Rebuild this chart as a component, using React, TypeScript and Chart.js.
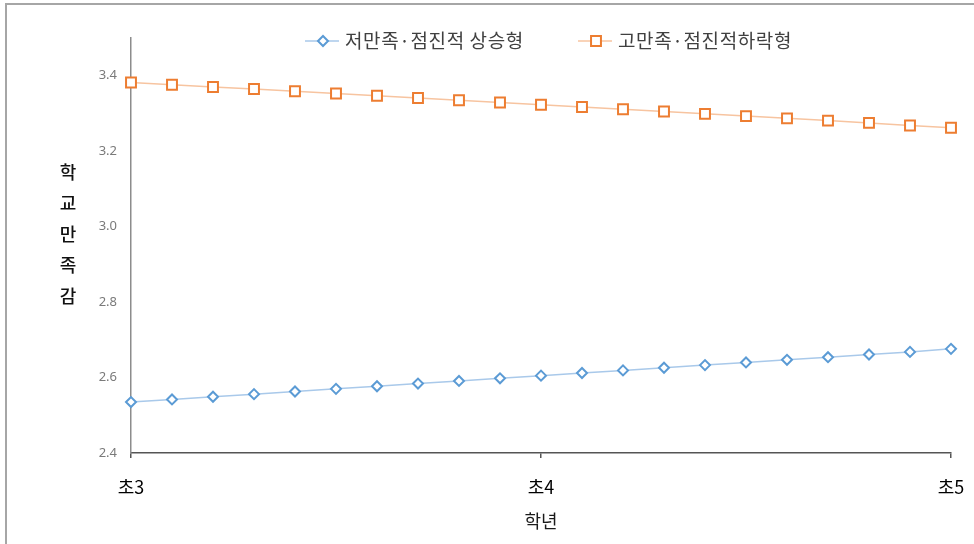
import React, { useEffect, useRef } from 'react';
import { Chart, registerables } from 'chart.js';

Chart.register(...registerables);

// Categories: 21 measurement points between 초3 and 초5, labelled only at whole grades
const categories = [
  '초3', '', '', '', '', '', '', '', '', '',
  '초4', '', '', '', '', '', '', '', '', '',
  '초5',
];

const lowRisingLabel = '저만족·점진적 상승형';
const lowRising = [
  2.535, 2.542, 2.549, 2.556, 2.563, 2.570, 2.577, 2.584, 2.591, 2.598,
  2.605, 2.612, 2.619, 2.626, 2.633, 2.640, 2.647, 2.654, 2.661, 2.668, 2.676,
];

const highFallingLabel = '고만족·점진적하락형';
const highFalling = [
  3.382, 3.376, 3.370, 3.365, 3.359, 3.353, 3.347, 3.341, 3.335, 3.329,
  3.323, 3.317, 3.311, 3.305, 3.299, 3.293, 3.287, 3.281, 3.275, 3.268, 3.262,
];

const yTicks = [2.4, 2.6, 2.8, 3.0, 3.2, 3.4];
const yMin = 2.4;
const yMax = 3.5;

const yTitleChars = ['학', '교', '만', '족', '감'];
const xTitle = '학년';

const BLUE = '#5b9bd5';
const BLUE_LINE = '#a9c9ea';
const ORANGE = '#ed7d31';
const ORANGE_LINE = '#f7c4a0';
const KFONT = '"Noto Sans CJK KR", "Noto Sans", sans-serif';

const decorPlugin = {
  id: 'decor',
  afterDraw(chart: any) {
    const ctx = chart.ctx as CanvasRenderingContext2D;
    ctx.save();
    // frame (top and left)
    ctx.strokeStyle = '#a6a6a6';
    ctx.lineWidth = 2;
    ctx.beginPath();
    ctx.moveTo(974, 4);
    ctx.lineTo(6, 4);
    ctx.lineTo(6, 544);
    ctx.stroke();

    // y-axis title, stacked characters
    ctx.fillStyle = '#111111';
    ctx.font = `500 18px ${KFONT}`;
    ctx.textAlign = 'center';
    ctx.textBaseline = 'middle';
    yTitleChars.forEach((c, i) => {
      ctx.fillText(c, 68, 172 + i * 31);
    });

    // legend
    const items = [
      { label: lowRisingLabel, color: BLUE, line: BLUE_LINE, style: 'rectRot', r: 5, x: 305 },
      { label: highFallingLabel, color: ORANGE, line: ORANGE_LINE, style: 'rect', r: 7, x: 578 },
    ];
    const ly = 41;
    items.forEach((it) => {
      ctx.strokeStyle = it.line;
      ctx.lineWidth = 1.5;
      ctx.beginPath();
      ctx.moveTo(it.x, ly);
      ctx.lineTo(it.x + 34, ly);
      ctx.stroke();
      ctx.lineWidth = 2;
      ctx.strokeStyle = it.color;
      ctx.fillStyle = '#ffffff';
      ctx.beginPath();
      const cx = it.x + 18;
      if (it.style === 'rectRot') {
        ctx.moveTo(cx - it.r, ly);
        ctx.lineTo(cx, ly - it.r);
        ctx.lineTo(cx + it.r, ly);
        ctx.lineTo(cx, ly + it.r);
        ctx.closePath();
      } else {
        const s = it.r * Math.SQRT1_2;
        ctx.rect(cx - s, ly - s, 2 * s, 2 * s);
      }
      ctx.fill();
      ctx.stroke();
      ctx.fillStyle = '#404040';
      ctx.font = `19px ${KFONT}`;
      ctx.textAlign = 'left';
      ctx.textBaseline = 'middle';
      (ctx as any).letterSpacing = '0.6px';
      ctx.fillText(it.label, it.x + 40, ly);
      (ctx as any).letterSpacing = '0px';
    });
    ctx.restore();
  },
};

export default function App() {
  const ref = useRef<HTMLCanvasElement | null>(null);

  useEffect(() => {
    if (!ref.current) return;
    const chart = new Chart(ref.current, {
      type: 'line',
      data: {
        labels: categories,
        datasets: [
          {
            label: lowRisingLabel,
            data: lowRising,
            borderColor: BLUE_LINE,
            borderWidth: 1.5,
            pointStyle: 'rectRot',
            pointRadius: 5,
            pointBorderWidth: 2,
            pointBorderColor: BLUE,
            pointBackgroundColor: '#ffffff',
            tension: 0,
          },
          {
            label: highFallingLabel,
            data: highFalling,
            borderColor: ORANGE_LINE,
            borderWidth: 1.5,
            pointStyle: 'rect',
            pointRadius: 7,
            pointBorderWidth: 2,
            pointBorderColor: ORANGE,
            pointBackgroundColor: '#ffffff',
            tension: 0,
          },
        ],
      },
      options: {
        responsive: false,
        animation: false,
        devicePixelRatio: 1,
        layout: { padding: { left: 0, top: 38, right: 23, bottom: 0 } },
        plugins: {
          legend: { display: false },
          tooltip: { enabled: false },
        },
        scales: {
          x: {
            type: 'category',
            offset: false,
            afterFit: (s: any) => { s.height = 91; s.paddingLeft = 0; s.paddingRight = 0; },
            border: { display: true, color: '#555555', width: 1.5 },
            grid: {
              display: true,
              drawOnChartArea: false,
              drawTicks: true,
              tickLength: 5,
              color: (c: any) => (categories[c.index] ? '#555555' : 'rgba(0,0,0,0)'),
              lineWidth: 1.5,
            },
            ticks: {
              autoSkip: false,
              maxRotation: 0,
              padding: 18,
              color: '#000000',
              font: { family: KFONT, size: 18 },
              callback: (_v: any, i: number) => categories[i],
            },
            title: {
              display: true,
              text: xTitle,
              color: '#1a1a1a',
              font: { family: KFONT, size: 18 },
              padding: { top: 0, bottom: 12 },
            },
          },
          y: {
            type: 'linear',
            min: yMin,
            max: yMax,
            afterFit: (s: any) => { s.width = 131; s.paddingTop = 0; s.paddingBottom = 0; },
            afterBuildTicks: (s: any) => { s.ticks = yTicks.map((v) => ({ value: v })); },
            border: { display: true, color: '#8c8c8c', width: 1.5 },
            grid: { display: false, drawTicks: false },
            ticks: {
              padding: 14,
              color: '#7a7a7a',
              font: { family: '"Noto Sans", sans-serif', size: 13 },
              callback: (v: any) => Number(v).toFixed(1),
            },
          },
        },
      },
      plugins: [decorPlugin],
    } as any);
    return () => chart.destroy();
  }, []);

  return (
    <div style={{ position: 'absolute', left: 0, top: 0, width: 974, height: 544, background: '#ffffff' }}>
      <canvas ref={ref} width={974} height={544} style={{ display: 'block', width: 974, height: 544 }} />
    </div>
  );
}
